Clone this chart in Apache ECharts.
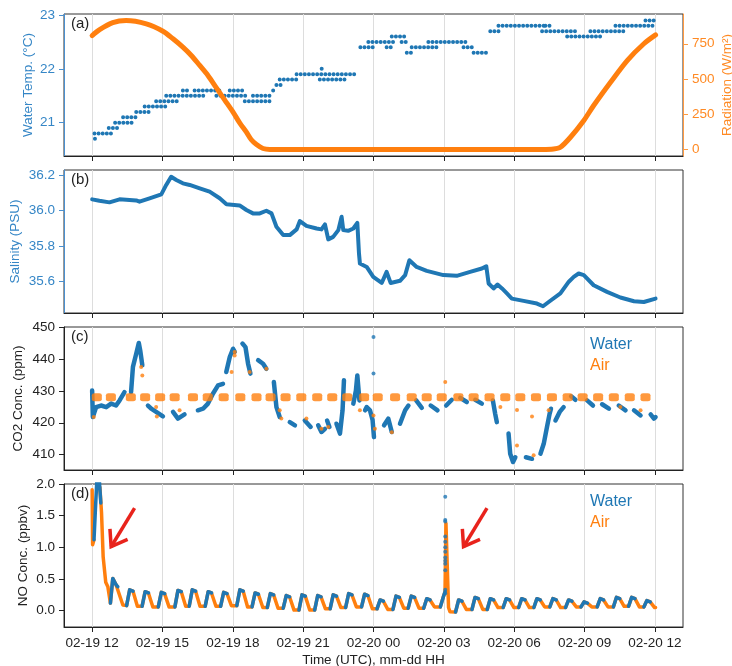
<!DOCTYPE html>
<html><head><meta charset="utf-8">
<script src="https://cdn.jsdelivr.net/npm/echarts@6/dist/echarts.min.js"></script>
<style>html,body{margin:0;padding:0;background:#fff}#c{width:732px;height:666px}</style>
</head><body><div id="c"></div>
<script>
// ================= DATA (hours since 02-19 00:00 UTC) =================
const xTickHours = [12, 15, 18, 21, 24, 27, 30, 33, 36];
const xTickLabels = ['02-19 12','02-19 15','02-19 18','02-19 21','02-20 00','02-20 03','02-20 06','02-20 09','02-20 12'];
const tempTicks = [21, 22, 23];
const radTicks = [0, 250, 500, 750];
const salTicks = [35.6, 35.8, 36.0, 36.2];
const co2Ticks = [410, 420, 430, 440, 450];
const noTicks = [0, 0.5, 1.0, 1.5, 2.0];
const panelLabels = ['(a)', '(b)', '(c)', '(d)'];
const legendNames = ['Water', 'Air'];

// Water temperature: runs of dots at one level [start h, end h, °C]
const tempRuns = [
  [12.00,12.03,20.5],[12.05,12.08,20.6],[12.12,12.17,20.7],[12.10,12.91,20.8],
  [12.71,13.17,20.9],[12.98,13.74,21.0],[13.32,13.95,21.1],[13.88,14.52,21.2],
  [14.24,15.16,21.3],[14.73,15.73,21.4],[15.16,16.87,21.5],[15.87,16.09,21.6],
  [16.37,17.58,21.6],[16.93,16.96,21.7],[17.30,18.58,21.5],[17.87,18.51,21.6],
  [18.51,19.72,21.4],[18.86,19.72,21.5],[19.72,19.86,21.6],[19.86,20.07,21.7],
  [20.00,20.86,21.8],[20.72,23.28,21.9],[21.71,22.85,21.8],[21.79,21.86,22.0],
  [23.30,23.32,22.0],[23.34,23.36,22.1],[23.37,23.39,22.2],[23.40,23.42,22.3],
  [23.44,24.06,22.4],[23.78,24.92,22.5],[24.56,24.78,22.4],[24.78,25.35,22.6],
  [25.20,25.42,22.5],[25.42,25.77,22.3],[25.53,25.56,22.2],[25.63,26.84,22.4],
  [26.34,28.05,22.5],[27.84,28.34,22.4],[28.27,28.84,22.3],[28.84,28.87,22.4],
  [28.90,28.93,22.5],[28.95,28.98,22.6],[28.98,29.41,22.7],[29.33,31.26,22.8],
  [29.90,29.93,22.7],[31.33,31.68,22.8],[31.19,32.75,22.7],[32.26,33.82,22.6],
  [33.25,34.68,22.7],[34.32,36.03,22.8],[35.60,36.03,22.9]
];

// Radiation (W/m²)
const radiation = [
  [12.00,808],[12.32,850],[12.88,900],[13.45,915],[14.31,891],[15.02,839],[15.45,785],[15.87,726],
  [16.23,667],[16.59,596],[16.94,525],[17.30,437],[17.65,352],[18.01,265],[18.30,187],[18.58,123],
  [18.79,69],[19.01,35],[19.29,7],[19.58,0],[20.2,0],
  [25.00,0],[31.20,0],[31.68,3],[31.97,16],[32.40,87],[32.97,206],[33.39,312],
  [34.11,477],[34.82,631],[35.53,750],[36.03,813]
];

// Salinity (PSU)
const salinity = [
  [12.00,36.063],[12.31,36.055],[12.74,36.046],[13.17,36.063],[13.88,36.057],[14.02,36.050],
  [14.45,36.069],[14.95,36.091],[15.16,36.144],[15.37,36.190],[15.59,36.172],[15.87,36.153],
  [16.16,36.144],[16.59,36.125],[17.01,36.106],[17.44,36.069],[17.73,36.035],[18.29,36.029],
  [18.58,36.003],[18.86,35.984],[19.15,35.984],[19.43,35.999],[19.65,35.984],[19.86,35.909],
  [20.15,35.862],[20.43,35.862],[20.72,35.894],[20.86,35.941],[21.14,35.914],[21.57,35.899],
  [21.78,35.894],[21.93,35.922],[22.07,35.838],[22.28,35.852],[22.50,35.890],[22.64,35.965],
  [22.71,35.890],[22.92,35.886],[23.14,35.899],[23.31,35.931],[23.38,35.760],[23.42,35.702],
  [23.71,35.683],[23.99,35.627],[24.35,35.593],[24.56,35.655],[24.73,35.593],[25.13,35.605],
  [25.35,35.637],[25.53,35.721],[25.84,35.683],[26.27,35.661],[26.98,35.637],[27.55,35.633],
  [28.12,35.655],[28.62,35.674],[28.81,35.687],[28.91,35.590],[29.12,35.562],[29.29,35.584],
  [29.48,35.562],[29.69,35.534],[29.90,35.505],[30.40,35.492],[30.97,35.477],[31.23,35.462],
  [31.47,35.486],[31.97,35.534],[32.33,35.600],[32.54,35.627],[32.75,35.646],[32.97,35.637],
  [33.39,35.580],[33.96,35.543],[34.53,35.511],[35.11,35.490],[35.53,35.486],[36.03,35.505]
];

// CO2 in water (ppm): measured stretches
const co2Water = [
  [[12.00,430.1],[12.03,421.8],[12.17,424.9],[12.38,425.4],[12.60,424.9],[12.81,426.0],[13.02,425.4],[13.17,427.0],[13.38,429.6]],
  [[13.66,429.6],[13.74,437.5],[13.88,441.6],[13.99,445.0],[14.05,442.7],[14.14,438.0]],
  [[14.38,425.4],[14.52,424.4],[14.73,423.4],[15.02,422.0]],
  [[15.45,423.4],[15.66,421.3],[15.94,422.6]],
  [[16.51,423.9],[16.73,424.4],[16.94,426.0],[17.15,429.1],[17.37,431.7],[17.58,432.2]],
  [[17.72,435.9],[17.87,440.6],[18.01,443.2],[18.08,442.2]],
  [[18.41,444.8],[18.54,443.7],[18.65,438.5],[18.75,435.4]],
  [[19.08,439.6],[19.29,438.5],[19.43,436.9]],
  [[19.75,432.8],[19.86,424.9],[20.00,421.8]],
  [[20.43,420.2],[20.65,419.2]],
  [[21.07,420.7],[21.32,418.7]],
  [[21.64,419.2],[21.78,417.1],[21.93,418.1]],
  [[22.02,420.7],[22.12,418.7]],
  [[22.42,419.7],[22.57,416.6],[22.68,423.9],[22.74,433.3]],
  [[23.14,426.0],[23.25,430.1],[23.31,434.8],[23.40,427.0]],
  [[23.64,423.9],[23.71,424.9],[23.85,423.9],[23.96,420.9],[24.02,415.5]],
  [[24.45,419.2],[24.63,421.3],[24.78,417.1]],
  [[25.13,419.7],[25.35,423.9],[25.49,425.4]],
  [[25.82,427.0],[26.06,424.7]],
  [[26.44,425.4],[26.73,423.9]],
  [[27.10,425.4],[27.34,427.2]],
  [[27.70,427.8],[27.98,426.5]],
  [[28.34,427.2],[28.62,426.0]],
  [[29.09,427.0],[29.19,422.8],[29.26,420.2]],
  [[29.76,416.6],[29.83,410.3],[29.95,407.7],[30.05,409.2]],
  [[30.50,409.2],[30.76,408.7]],
  [[31.12,410.3],[31.26,413.4],[31.40,418.7],[31.51,422.8],[31.57,424.4]],
  [[31.76,420.7],[31.94,423.4],[32.11,424.9]],
  [[32.43,428.3],[32.61,427.2]],
  [[33.11,427.0],[33.36,425.4]],
  [[33.75,425.8],[34.04,424.4]],
  [[34.46,425.4],[34.75,423.9]],
  [[35.11,423.9],[35.39,422.3]],
  [[35.82,422.6],[35.96,421.3],[36.03,421.8]]
];
const co2WaterDots = [[24.00,446.9],[24.00,435.4],[24.02,418.0]];

// CO2 in air (ppm): measurement blocks and stray points
const co2AirBlocks = [
  [12.20,428],[12.80,428],[13.65,428],[14.26,428],[14.90,428],[15.52,428],[16.30,428],
  [16.93,428],[17.61,428],[18.32,428],[19.01,428],[19.61,428],[20.25,428],[20.92,428],
  [21.60,428],[22.24,428],[22.88,428],[23.60,428],[24.18,428],[24.92,428],[25.63,428],
  [26.27,428],[26.91,428],[27.62,428],[28.27,428],[28.95,428],[29.62,428],[30.26,428],
  [30.93,428],[31.61,428],[32.28,428],[32.92,428],[33.58,428],[34.25,428],[34.93,428],[35.60,428]
];
const co2AirDots = [
  [12.07,421.8],[14.09,437.5],[14.14,434.8],[14.73,424.9],[14.76,422.0],[15.73,423.9],
  [17.95,435.9],[18.08,442.2],[18.08,441.1],[18.72,435.9],[19.43,436.9],[20.00,423.9],
  [20.07,421.3],[21.14,421.3],[21.78,418.1],[22.07,418.7],[23.42,423.9],[24.00,422.3],
  [24.06,418.1],[24.78,417.0],[27.06,432.8],[29.41,424.9],[30.12,424.0],[30.12,412.9],
  [30.76,422.0],[30.83,409.8],[31.47,423.9],[34.53,424.9],[35.39,423.9]
];

// NO (ppbv): start transient
const noStartWater = [[12.08,1.12],[12.14,1.60],[12.20,2.05],[12.30,2.10],[12.37,1.70]];
const noStartAir = [[[12.00,1.91],[12.02,1.04],[12.08,1.12]],
                    [[12.33,1.95],[12.40,1.55],[12.47,0.85],[12.58,0.45],[12.67,0.38],[12.78,0.12]]];
// NO cycles: [water-phase points], [following air-phase points]
const noCycles = [
  [[[12.78,.12],[12.88,.51],[13.02,.41],[13.09,.38]], [[13.31,.09]]],
  [[[13.47,.08],[13.60,.33],[13.74,.31]], [[13.93,.07]]],
  [[[14.13,.07],[14.26,.30],[14.40,.28]], [[14.59,.06]]],
  [[[14.82,.06],[14.95,.29],[15.09,.27]], [[15.28,.06]]],
  [[[15.53,.06],[15.66,.32],[15.80,.30]], [[15.99,.07]]],
  [[[16.14,.07],[16.27,.33],[16.41,.31]], [[16.60,.07]]],
  [[[16.82,.07],[16.95,.30],[17.09,.28]], [[17.28,.07]]],
  [[[17.48,.07],[17.61,.29],[17.75,.27]], [[17.94,.08]]],
  [[[18.17,.08],[18.30,.33],[18.44,.31]], [[18.63,.06]]],
  [[[18.82,.06],[18.95,.28],[19.09,.26]], [[19.28,.05]]],
  [[[19.47,.05],[19.60,.27],[19.74,.25]], [[19.93,.04]]],
  [[[20.15,.04],[20.28,.24],[20.42,.22]], [[20.61,.01]]],
  [[[20.82,.01],[20.95,.25],[21.09,.23]], [[21.28,.01]]],
  [[[21.49,.01],[21.62,.24],[21.76,.22]], [[21.95,.03]]],
  [[[22.15,.03],[22.28,.25],[22.42,.23]], [[22.61,.05]]],
  [[[22.81,.05],[22.94,.27],[23.08,.25]], [[23.27,.06]]],
  [[[23.49,.06],[23.62,.26],[23.76,.24]], [[23.95,.03]]],
  [[[24.15,.03],[24.28,.17],[24.42,.15]], [[24.61,.02]]],
  [[[24.83,.02],[24.96,.23],[25.10,.21]], [[25.29,.04]]],
  [[[25.48,.04],[25.61,.23],[25.75,.21]], [[25.94,.04]]],
  [[[26.14,.04],[26.27,.19],[26.41,.17]], [[26.60,.06]]],
  [[[26.85,.06],[26.98,.22],[27.05,.30]], [[27.09,1.38],[27.20,.05],[27.26,-.015]]],
  [[[27.50,-.02],[27.63,.17],[27.77,.15]], [[27.96,.02]]],
  [[[28.20,.02],[28.33,.21],[28.47,.19]], [[28.66,.02]]],
  [[[28.85,.02],[28.98,.19],[29.12,.17]], [[29.31,.05]]],
  [[[29.53,.05],[29.66,.19],[29.80,.17]], [[29.99,.05]]],
  [[[30.19,.05],[30.32,.19],[30.46,.17]], [[30.65,.05]]],
  [[[30.84,.05],[30.97,.19],[31.11,.17]], [[31.30,.06]]],
  [[[31.52,.06],[31.65,.19],[31.79,.17]], [[31.98,.05]]],
  [[[32.19,.05],[32.32,.17],[32.46,.15]], [[32.65,.06]]],
  [[[32.85,.06],[32.98,.14],[33.12,.12]], [[33.31,.06]]],
  [[[33.54,.06],[33.67,.19],[33.81,.17]], [[34.00,.06]]],
  [[[34.23,.06],[34.36,.21],[34.50,.19]], [[34.69,.07]]],
  [[[34.88,.07],[35.01,.21],[35.15,.19]], [[35.34,.06]]],
  [[[35.53,.06],[35.66,.16],[35.80,.14]], [[35.99,.05],[36.03,.05]]]
];
const noWaterDots = [[27.06,1.80],[27.06,1.43],[27.06,1.41],[27.06,1.17],[27.06,1.09],[27.06,1.00],
  [27.06,0.93],[27.06,0.84],[27.06,0.79],[27.06,0.74],[27.06,0.64],[27.06,0.33],[27.06,0.27]];

// Red annotation arrows in panel (d): [tail h, tail ppbv, tip h, tip ppbv]
const noArrows = [[13.81,1.62,12.81,1.01],[28.84,1.62,27.84,1.01]];

// ================= STYLE =================
const FONT = '"Liberation Sans", Arial, Helvetica, sans-serif';
const BLUE = '#1f77b4', ORANGE = '#ff7f0e';
const BLUE_TXT = '#3586c6', ORANGE_TXT = '#ff8a24';
const BLUE_AX = '#4a90d0', ORANGE_AX = '#ff9a40';
const DARK = '#222';
const FS = 13.5;

const GAP = '-';
function runsToLine(runs){ const d=[]; runs.forEach(r=>{ d.push([r[0],r[2]],[r[1],r[2]],[r[1],GAP]); }); return d; }
function segsToLine(segs){ const d=[]; segs.forEach(s=>{ s.forEach(p=>d.push(p)); d.push([s[s.length-1][0],GAP]); }); return d; }

const noWaterSegs = [noStartWater].concat(noCycles.map(c=>c[0]));
const noAirLine = segsToLine([noStartAir[0]]);
const airMain = noStartAir[1].slice();
noCycles.forEach(c=>{ c[0].forEach(p=>airMain.push(p)); c[1].forEach(p=>airMain.push(p)); });
airMain.forEach(p=>noAirLine.push(p));

const gridTops = [14, 170, 327, 484];
const gridH = [142, 143, 143, 143];

function xAxis(i){
  return {
    type:'value', gridIndex:i, min:10.8, max:37.2,
    axisLine:{show:true, onZero:false, lineStyle:{color:DARK, width:1}},
    axisTick:{show:true, customValues:xTickHours, length:5, lineStyle:{color:DARK}},
    axisLabel:{show:i===3, customValues:xTickHours, margin:9, fontSize:FS, color:DARK, fontFamily:FONT,
      formatter:v=>{ const k=xTickHours.indexOf(Math.round(v)); return k>=0?xTickLabels[k]:''; }},
    splitLine:{show:true, lineStyle:{color:'#dddddd', width:1}},
    name: i===3 ? 'Time (UTC), mm-dd HH' : '',
    nameLocation:'middle', nameGap:26.5, nameMoveOverlap:false,
    nameTextStyle:{fontSize:FS, color:DARK, fontFamily:FONT}
  };
}
function yAxis(grid, opt){
  return {
    type:'value', gridIndex:grid, min:opt.min, max:opt.max, position:opt.pos||'left',
    axisLine:{show:true, onZero:false, lineStyle:{color:opt.axc||DARK, width:1}},
    axisTick:{show:true, customValues:opt.ticks, length:5, lineStyle:{color:opt.axc||DARK}},
    axisLabel:{customValues:opt.ticks, margin:9, fontSize:FS, color:opt.txt||DARK, fontFamily:FONT,
      formatter:opt.fmt||(v=>String(v))},
    splitLine:{show:false},
    name:opt.name, nameLocation:'middle', nameGap:opt.gap, nameMoveOverlap:false,
    nameTextStyle:{fontSize:FS, color:opt.txt||DARK, fontFamily:FONT}
  };
}

const option = {
  animation:false,
  backgroundColor:'#ffffff',
  grid: gridTops.map((t,i)=>({left:64, right:49, top:t, height:gridH[i], show:true,
    borderColor:'#333', borderWidth:1, backgroundColor:'transparent', containLabel:false,
    outerBoundsMode:'none'})),
  xAxis:[0,1,2,3].map(xAxis),
  yAxis:[
    yAxis(0,{min:20.38,max:23.02,ticks:tempTicks,axc:BLUE_AX,txt:BLUE_TXT,name:'Water Temp. (°C)',gap:29}),
    yAxis(0,{min:-46,max:961,ticks:radTicks,pos:'right',axc:ORANGE_AX,txt:ORANGE_TXT,name:'Radiation (W/m²)',gap:37}),
    yAxis(1,{min:35.424,max:36.228,ticks:salTicks,axc:BLUE_AX,txt:BLUE_TXT,name:'Salinity (PSU)',gap:42,fmt:v=>v.toFixed(1)}),
    yAxis(2,{min:405.2,max:450,ticks:co2Ticks,name:'CO2 Conc. (ppm)',gap:39,fmt:v=>String(v)}),
    yAxis(3,{min:-0.257,max:2.0,ticks:noTicks,name:'NO Conc. (ppbv)',gap:34,fmt:v=>v.toFixed(1)})
  ],
  legend:[337, 494].map(top=>({
    orient:'vertical', left:585, top:top, padding:0, itemGap:5, itemWidth:0, itemHeight:0,
    icon:'rect', selectedMode:false,
    textStyle:{fontSize:16, fontFamily:FONT},
    data:[{name:legendNames[0], textStyle:{color:BLUE}},{name:legendNames[1], textStyle:{color:ORANGE}}]
  })),
  series:[
    {type:'line', xAxisIndex:0, yAxisIndex:0, data:runsToLine(tempRuns), showSymbol:false, z:2,
      lineStyle:{color:BLUE, width:4, type:[0.01,4.1], cap:'round'}},
    {type:'line', xAxisIndex:0, yAxisIndex:1, data:radiation, showSymbol:false, smooth:0.3, z:3,
      lineStyle:{color:ORANGE, width:5, cap:'round', join:'round'}},
    {type:'line', xAxisIndex:1, yAxisIndex:2, data:salinity, showSymbol:false, z:2,
      lineStyle:{color:BLUE, width:4, join:'round', cap:'round'}},
    {name:'Water', type:'line', xAxisIndex:2, yAxisIndex:3, data:segsToLine(co2Water), showSymbol:false, z:2,
      itemStyle:{color:BLUE}, lineStyle:{color:BLUE, width:4.5, join:'round', cap:'round'}},
    {name:'Water', type:'scatter', xAxisIndex:2, yAxisIndex:3, data:co2WaterDots, symbolSize:4, z:2,
      itemStyle:{color:BLUE}},
    {name:'Air', type:'scatter', xAxisIndex:2, yAxisIndex:3, data:co2AirBlocks, symbol:'roundRect',
      symbolSize:[10,8], z:3, itemStyle:{color:ORANGE}},
    {name:'Air', type:'scatter', xAxisIndex:2, yAxisIndex:3, data:co2AirDots, symbolSize:4, z:3,
      itemStyle:{color:ORANGE}},
    {name:'Air', type:'line', xAxisIndex:3, yAxisIndex:4, data:noAirLine, showSymbol:false, z:2,
      itemStyle:{color:ORANGE}, lineStyle:{color:ORANGE, width:3.5, join:'round', cap:'round'}},
    {name:'Water', type:'line', xAxisIndex:3, yAxisIndex:4, data:segsToLine(noWaterSegs), showSymbol:false, z:3,
      itemStyle:{color:BLUE}, lineStyle:{color:BLUE, width:3.5, join:'round', cap:'round'}},
    {name:'Water', type:'scatter', xAxisIndex:3, yAxisIndex:4, data:noWaterDots, symbolSize:4, z:3,
      itemStyle:{color:BLUE}}
  ]
};

const chart = echarts.init(document.getElementById('c'), null, {renderer:'canvas'});
chart.setOption(option);

// panel labels + arrows
const graphics = panelLabels.map((t,i)=>({type:'text', x:71, y:gridTops[i]+10,
  style:{text:t, font:'15px '+FONT, fill:DARK, verticalAlign:'middle', align:'left'}, z:10}));
noArrows.forEach(a=>{
  const p0 = chart.convertToPixel({xAxisIndex:3, yAxisIndex:4}, [a[0],a[1]]);
  const p1 = chart.convertToPixel({xAxisIndex:3, yAxisIndex:4}, [a[2],a[3]]);
  const dx=p1[0]-p0[0], dy=p1[1]-p0[1], L=Math.hypot(dx,dy), ux=dx/L, uy=dy/L;
  const head=18, ang=35*Math.PI/180;
  const rot=(x,y,t)=>[x*Math.cos(t)-y*Math.sin(t), x*Math.sin(t)+y*Math.cos(t)];
  const b1=rot(-ux,-uy,ang), b2=rot(-ux,-uy,-ang);
  graphics.push({type:'polyline', shape:{points:[p0,p1]}, style:{stroke:'#e8231c', lineWidth:3.5, fill:null, lineCap:'butt'}, z:10});
  graphics.push({type:'polyline', shape:{points:[[p1[0]+b1[0]*head,p1[1]+b1[1]*head],p1,[p1[0]+b2[0]*head,p1[1]+b2[1]*head]]},
    style:{stroke:'#e8231c', lineWidth:3.5, fill:null, lineJoin:'miter', lineCap:'butt'}, z:10});
});
chart.setOption({graphic:graphics});
</script>
</body></html>
